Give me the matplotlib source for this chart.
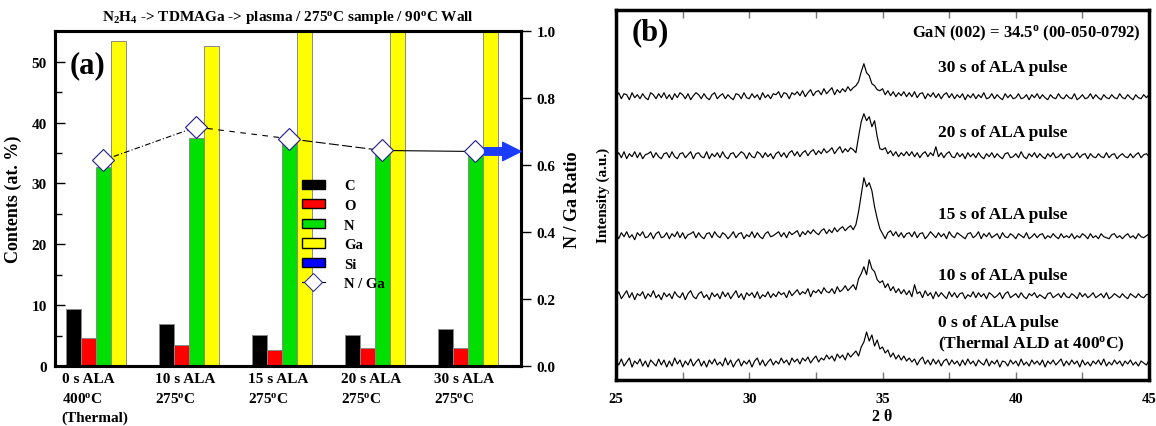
import matplotlib
matplotlib.use('Agg')
import matplotlib.pyplot as plt
import numpy as np
from matplotlib.patches import Patch
from matplotlib.lines import Line2D

plt.rcParams['font.family'] = ['Liberation Serif', 'DejaVu Serif']
plt.rcParams['font.weight'] = 'bold'
plt.rcParams['axes.labelweight'] = 'bold'
plt.rcParams['axes.titleweight'] = 'bold'
plt.rcParams['mathtext.fontset'] = 'custom'
plt.rcParams['mathtext.rm'] = 'Liberation Serif:bold'
plt.rcParams['mathtext.it'] = 'Liberation Serif:bold'
plt.rcParams['mathtext.bf'] = 'Liberation Serif:bold'

# ---- panel (a) data: composition (at. %) and N/Ga ratio
samples = ['0 s ALA\n400$^o$C\n(Thermal)', '10 s ALA\n275$^o$C', '15 s ALA\n275$^o$C',
           '20 s ALA\n275$^o$C', '30 s ALA\n275$^o$C']
carbon = [9.3, 6.9, 5.1, 5.1, 6.0]
oxygen = [4.6, 3.4, 2.7, 3.0, 2.9]
nitrogen = [32.7, 37.5, 37.0, 35.2, 34.9]
gallium = [53.4, 52.6, 55.5, 55.3, 55.4]
silicon = [0.0, 0.0, 0.0, 0.0, 0.0]
n_ga_ratio = [0.615, 0.714, 0.679, 0.644, 0.641]

# ---- panel (b) data: XRD scans, 2theta 25..45 step 0.1, intensity in a.u.
two_theta = np.round(np.arange(25.0, 45.05, 0.1), 1)
xrd_labels = ['0 s of ALA pulse\n(Thermal ALD at 400$^o$C)', '10 s of ALA pulse',
              '15 s of ALA pulse', '20 s of ALA pulse', '30 s of ALA pulse']
xrd_0s = [3, -2, 4, -3, 1, 5, -4, 2, -1, 4,
          -3, 2, -4, 3, 0, -3, 4, -2, 3, -4,
          2, -3, 5, -1, 3, -4, 2, -2, 4, -3,
          1, 4, -3, 2, -4, 3, -1, 4, -2, 1,
          -3, 5, -2, 3, -4, 1, 4, -3, 2, -1,
          3, -4, 2, 5, -2, 3, -3, 1, 4, -2,
          2, -1, 5, 0, 3, -2, 5, 1, 4, -1,
          5, 2, 6, 0, 4, 7, 1, 5, 3, 8,
          4, 7, 2, 9, 5, 8, 3, 10, 6, 9,
          12, 7, 16, 21, 31, 22, 28, 17, 23, 14,
          16, 10, 13, 6, 10, 4, 8, 3, 7, 2,
          5, 1, 4, -2, 3, 6, -1, 3, -2, 4,
          -1, 3, -3, 2, 4, -2, 3, -1, 2, -3,
          3, -2, 4, -1, 2, -3, 3, 0, -2, 4,
          -3, 2, -1, 3, -4, 2, 1, -3, 3, -1,
          2, -3, 4, -2, 1, -3, 3, -1, 2, -2,
          3, -4, 2, -1, 3, -2, 1, 4, -3, 2,
          -2, 3, -1, 2, -4, 3, -2, 1, -3, 2,
          -1, 3, -2, 4, -3, 1, -2, 3, -1, 2,
          -3, 2, -1, 3, -2, 1, -3, 2, 0, -2, 3]
xrd_10s = [-2, 4, -3, 1, 5, -2, 3, -4, 2, 0,
           4, -3, 2, -1, 5, -2, 1, -4, 3, -1,
           2, -3, 4, 0, -2, 3, -4, 2, 5, -1,
           -3, 2, 4, -2, 1, -4, 3, -1, 2, -3,
           4, -1, 3, -3, 1, 5, -2, 2, -4, 3,
           0, 3, -2, 4, -3, 1, -1, 4, -2, 2,
           -1, 4, 1, 3, -2, 5, 0, 3, 6, 1,
           4, 2, 7, -1, 5, 3, 6, 2, 8, 4,
           3, 7, 2, 9, 4, 6, 10, 5, 8, 11,
           6, 17, 22, 29, 21, 36, 27, 24, 16, 13,
           15, 8, 12, 5, 9, 3, 7, 2, 6, 1,
           5, -1, 11, 2, 4, -2, 5, 0, 3, -3,
           4, -1, 3, 0, -3, 4, -1, 3, -2, 2,
           3, -3, 1, -1, 4, -2, 3, -1, 2, -3,
           3, 1, -2, 0, 3, -3, 2, 4, -2, 0,
           2, -2, 3, -1, -3, 2, 0, 3, -2, 1,
           -1, -3, 2, 3, -2, 0, 2, -2, 3, -1,
           -2, 2, 0, -3, 3, -1, 2, -2, 0, 3,
           -2, 0, 2, -2, 3, -3, -1, 2, 0, -2,
           2, -1, -3, 2, 0, -2, 2, -1, -2, 1, 2]
xrd_15s = [2, -3, 3, -1, 4, -2, 1, -4, 3, 0,
           4, -2, -1, 3, -3, 2, 4, -2, -1, 3,
           -3, 2, -1, 4, -2, 3, -3, 1, 2, 4,
           -2, 3, -1, -3, 2, 3, -2, 4, 0, -2,
           3, 1, -3, 0, 4, -2, 2, 3, -3, 1,
           -1, 4, -2, 3, -1, -3, 2, 4, -1, 0,
           2, 4, -1, 3, -2, 4, 1, 3, 5, -1,
           4, 1, 5, 2, 6, 3, 1, 5, 7, 2,
           6, 3, 8, 4, 7, 9, 5, 8, 10, 6,
           11, 24, 41, 58, 49, 53, 45, 29, 17, 7,
           2, -3, 3, 5, 0, 4, -1, 3, -2, 2,
           3, -1, 4, -2, 2, 3, -3, 0, 4, 1,
           -2, 3, -1, 2, -3, 4, 0, -2, 3, 1,
           -1, -3, 2, 3, -2, 0, 4, -3, 2, -1,
           3, -2, 0, 2, -3, 3, -1, -2, 2, 0,
           -3, 2, 0, -2, 3, -3, -1, 2, -2, 1,
           2, -3, 0, -2, 2, -1, -3, 2, -2, 0,
           -2, 2, -3, 0, -2, 2, 0, -3, 2, -2,
           0, -3, 2, -1, -2, -3, 1, 2, -2, 0,
           -3, 0, 2, -2, 0, -3, 2, -1, -2, 0, 2]
xrd_20s = [-1, 3, -2, 4, -3, 2, -1, 4, -2, 3,
           -3, 1, 2, 4, -2, 3, -1, -3, 2, 3,
           -2, 4, -1, -3, 2, 3, -2, 1, 4, -3,
           2, 3, -1, -2, 4, -3, 2, -1, 3, -2,
           4, -1, -3, 2, 3, -2, 1, 4, 2, -3,
           3, -1, -2, 4, 2, -2, 3, -1, 2, -3,
           2, 4, -1, 3, -2, 3, 5, 0, 4, -1,
           3, 5, 0, 4, 6, 1, 5, 2, 7, 3,
           5, 8, 2, 6, 9, 3, 7, 4, 8, 6,
           3, 19, 34, 42, 35, 39, 29, 35, 19, 7,
           6, 8, 2, 5, 0, 4, -1, 3, 0, 4,
           0, 4, -1, 3, -2, 2, 4, -1, 3, 0,
           9, -1, 3, -2, 2, 4, -1, -2, 3, -1,
           2, -3, 3, -1, 2, -2, 3, -1, -3, 2,
           -1, 3, -2, 2, -1, -3, 2, 3, -2, -1,
           2, -2, 4, -1, -3, 2, -1, 3, -2, 2,
           -1, -3, 2, -1, 3, -2, -1, 2, -3, 1,
           2, -2, -1, 3, -2, 1, 2, -3, 2, -1,
           -2, 2, -1, -2, 3, -2, 1, 2, -3, 0,
           2, -1, -2, 2, -2, 1, 3, -2, 1, 2, -1]
xrd_30s = [-1, 4, -2, 3, 2, -3, 4, -1, 2, -2,
           3, -1, -3, 4, 2, -2, 3, -1, 4, -2,
           2, -3, 3, -1, 4, 2, -2, 3, -3, 1,
           4, 2, -2, 3, -1, -3, 2, 4, -2, 1,
           3, -2, 2, -1, -3, 3, 2, -2, 4, -1,
           -2, 3, -1, 2, -3, 4, -1, 2, -2, 3,
           2, 5, -1, 4, 3, -2, 4, 2, 5, 1,
           6, 0, 4, 7, 1, 5, 6, 2, 8, 3,
           6, 9, 2, 7, 4, 8, 5, 10, 6, 9,
           11, 15, 25, 33, 24, 21, 13, 11, 7, 6,
           8, 2, 6, 1, 5, 0, 4, 1, 5, 0,
           4, 0, 5, -1, 3, 4, -2, 3, 0, 4,
           -1, 3, -2, 2, 4, -1, 3, -2, 2, -1,
           3, -3, 2, -1, 3, -2, 2, -1, 4, -2,
           -1, 3, -2, 2, -1, -3, 3, -1, 2, -2,
           -1, 3, -2, -1, 2, -3, 2, -1, 3, -2,
           2, -1, -3, 2, -1, -2, 3, -1, -2, 2,
           -1, -2, 3, -3, -1, 2, -2, -1, 3, -2,
           2, -1, -3, 2, -1, -2, 2, -1, -2, 3,
           -1, -2, 2, -1, -3, 2, -1, -2, 2, -1, 2]
xrd_scans = [xrd_0s, xrd_10s, xrd_15s, xrd_20s, xrd_30s]
trace_offsets = [16.7, 84, 144, 224, 283]
label_y = [46, 104.7, 165.7, 247.7, 312.7]

fig = plt.figure(figsize=(11.56, 4.27), dpi=100)

# ================= panel (a)
ax1 = fig.add_axes([0.0476, 0.1405, 0.4031, 0.7838])
x = np.arange(len(samples))
w = 0.161
bar_kw = dict(width=w, edgecolor='#8a8a8a', linewidth=0.7, zorder=2)
ax1.bar(x - 1.5 * w, carbon, color='black', **bar_kw)
ax1.bar(x - 0.5 * w, oxygen, color='#ff0000', **bar_kw)
ax1.bar(x + 0.5 * w, nitrogen, color='#00e000', **bar_kw)
ax1.bar(x + 1.5 * w, gallium, color='#ffff00', **bar_kw)
ax1.bar(x + 2.5 * w, silicon, color='#0000ff', **bar_kw)
ax1.set_xlim(-0.438, 4.573)
ax1.set_ylim(0, 55)
ax1.set_xticks(x - 2 * w - 0.045)
ax1.set_xticklabels(samples, ha='left', fontsize=11, linespacing=1.55)
ax1.tick_params(axis='x', length=0, pad=4)
ax1.set_yticks(range(0, 51, 10))
ax1.set_yticks(range(5, 55, 10), minor=True)
ax1.tick_params(axis='y', which='major', direction='in', length=7, width=1, labelsize=11, pad=6)
ax1.tick_params(axis='y', which='minor', direction='in', length=5, width=1)
ax1.set_ylabel('Contents (at. %)', fontsize=13, labelpad=7)
for s in ax1.spines.values():
    s.set_linewidth(2.2)
ax1.text(0.032, 0.90, '(a)', transform=ax1.transAxes, fontsize=22, va='center')
ax1.set_title('N$_2$H$_4$ -> TDMAGa -> plasma / 275$^o$C sample / 90$^o$C Wall',
              fontsize=11, pad=8)

ax2 = ax1.twinx()
ax2.set_ylim(0, 1.0)
ax2.set_yticks(np.arange(0, 1.01, 0.2))
ax2.set_yticklabels(['%.1f' % v for v in np.arange(0, 1.01, 0.2)])
ax2.tick_params(axis='y', direction='out', length=7, width=1, labelsize=11, pad=4)
ax2.set_ylabel('N / Ga Ratio', fontsize=13, labelpad=6)
for s in ax2.spines.values():
    s.set_linewidth(2.2)

xr = x + 0.5 * w
seg_styles = [(0, (5, 2, 1, 2)), (0, (5, 5)), (0, (9, 3)), '-']
for i in range(len(xr) - 1):
    ax2.plot(xr[i:i + 2], n_ga_ratio[i:i + 2], color='black', lw=0.8,
             linestyle=seg_styles[i], zorder=3)
ax2.plot(xr, n_ga_ratio, linestyle='none', marker='D', markersize=11,
         markerfacecolor='white', markeredgecolor='#1c1c90', markeredgewidth=0.8, zorder=4)
ax2.annotate('', xy=(1.0, n_ga_ratio[-1]), xycoords=('axes fraction', 'data'),
             xytext=(xr[-1] + 0.1, n_ga_ratio[-1]), textcoords='data',
             arrowprops=dict(arrowstyle='simple,head_width=1.1,head_length=1.1,tail_width=0.45',
                             color='#1a3cff', mutation_scale=12, shrinkA=0, shrinkB=0),
             zorder=5)

handles = [Patch(facecolor='black', edgecolor='black', label='C'),
           Patch(facecolor='#ff0000', edgecolor='black', label='O'),
           Patch(facecolor='#00e000', edgecolor='black', label='N'),
           Patch(facecolor='#ffff00', edgecolor='black', label='Ga'),
           Patch(facecolor='#0000ff', edgecolor='black', label='Si'),
           Line2D([], [], color='black', lw=0.8, marker='D', markersize=9,
                  markerfacecolor='white', markeredgecolor='#1c1c90',
                  markeredgewidth=0.7, label='N / Ga')]
ax2.legend(handles=handles, loc='upper left', bbox_to_anchor=(0.517, 0.575),
           frameon=False, fontsize=10.5, handlelength=1.6, handleheight=0.6,
           handletextpad=1.3, labelspacing=0.45, borderaxespad=0)

# ================= panel (b)
ax3 = fig.add_axes([0.5329, 0.1084, 0.4611, 0.8658])
for scan, off in zip(xrd_scans, trace_offsets):
    ax3.plot(two_theta, np.array(scan) + off, color='black', lw=0.85)
ax3.set_xlim(25, 45)
ax3.set_ylim(0, 369.7)
ax3.set_yticks([])
ax3.set_xticks([25, 30, 35, 40, 45])
ax3.set_xticks([27.5, 32.5, 37.5, 42.5], minor=True)
ax3.tick_params(axis='x', which='both', direction='in', length=6, width=1, color='#777777',
                top=True, labelsize=10.5, pad=9)
ax3.set_xlabel('2 \u03b8', fontsize=11.5, labelpad=2)
ax3.set_ylabel('Intensity (a.u.)', fontsize=11, labelpad=4)
for s in ax3.spines.values():
    s.set_linewidth(2.5)
ax3.text(25.6, 347.7, '(b)', fontsize=22, va='center')
ax3.text(44.7, 347.7, 'GaN (002) = 34.5$^o$ (00-050-0792)', fontsize=12,
         ha='right', va='center')
for lab, ly in zip(xrd_labels, label_y):
    ax3.text(37.08, ly, lab, fontsize=12.5, ha='left', va='center', linespacing=1.3)

fig.savefig('out.png', dpi=100)
